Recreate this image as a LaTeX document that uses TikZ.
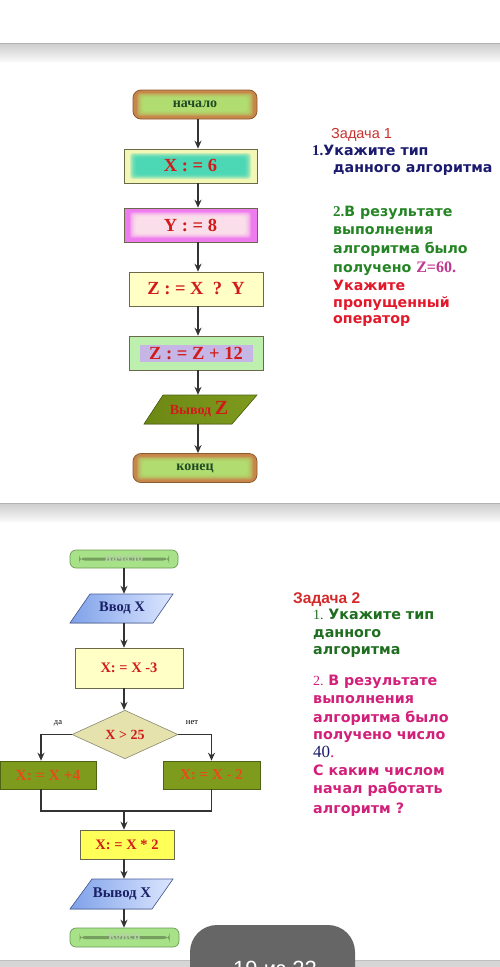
\documentclass[tikz,border=0pt]{standalone}
\usepackage{fontspec}
\setmainfont{Liberation Serif}
\newfontfamily\dvs{DejaVu Sans}
\newfontfamily\lsans{Liberation Sans}
\usetikzlibrary{shapes.geometric,arrows.meta,calc}
\definecolor{fred}{HTML}{D21A1A}
\definecolor{dgreen}{HTML}{1F4A22}
\definecolor{termbrown}{HTML}{C8874A}
\definecolor{termborder}{HTML}{8A5A2E}
\definecolor{glowgreen}{HTML}{ADF07A}
\definecolor{yel1}{HTML}{F2F7B5}
\definecolor{teal1}{HTML}{2BD2B6}
\definecolor{mag1}{HTML}{EE7CEE}
\definecolor{cream1}{HTML}{FFF5EA}
\definecolor{lightyel}{HTML}{FFFFC6}
\definecolor{zgreen}{HTML}{BDF0AE}
\definecolor{lav}{HTML}{C6B6E6}
\definecolor{olive}{HTML}{7E9B1E}
\definecolor{olivedk}{HTML}{6C8814}
\definecolor{oliveborder}{HTML}{4F6412}
\definecolor{arrowc}{HTML}{333333}
\definecolor{boxborder}{HTML}{6A6A4A}
\definecolor{green2}{HTML}{A7E288}
\definecolor{green2b}{HTML}{6B9B55}
\definecolor{blue1}{HTML}{7FA1E9}
\definecolor{blue2}{HTML}{DCE6FF}
\definecolor{blueborder}{HTML}{4A5F99}
\definecolor{navy}{HTML}{1A1F66}
\definecolor{khaki}{HTML}{E6E2AE}
\definecolor{yel2}{HTML}{FFFF5A}
\definecolor{ored}{HTML}{E84A18}
\definecolor{zred}{HTML}{C9302E}
\definecolor{navytxt}{HTML}{1A1A6E}
\definecolor{greentxt}{HTML}{258525}
\definecolor{pinkz}{HTML}{C2378F}
\definecolor{redtxt}{HTML}{E3182B}
\definecolor{ztwored}{HTML}{D42A2A}
\definecolor{greentwo}{HTML}{1F6E1F}
\definecolor{magtxt}{HTML}{D2207A}
\definecolor{pagegrey}{HTML}{666666}
\newcommand\txtTop{\dvs\bfseries\fontsize{14.2}{16}\selectfont}
\newcommand\txtBot{\dvs\bfseries\fontsize{14.3}{16}\selectfont}
\begin{document}
\begin{tikzpicture}[x=1pt,y=-1pt,
  glow/.style n args={3}{path picture={
    \foreach \k in {0,...,6}{
      \fill[#1,opacity=0.22,rounded corners=3pt]
        ([xshift={(#2+\k)*1pt}, yshift={(#3+0.8*\k)*1pt}]path picture bounding box.south west)
        rectangle
        ([xshift={-(#2+\k)*1pt}, yshift={-(#3+0.8*\k)*1pt}]path picture bounding box.north east);
    }}},
  term/.style={draw=termborder, line width=0.8pt, fill=termbrown, rounded corners=8pt,
    minimum width=124pt, minimum height=29pt, inner sep=0pt, text=dgreen,
    font=\bfseries\fontsize{14}{16}\selectfont},
  pbox/.style={draw=boxborder, line width=0.6pt, inner sep=0pt,
    minimum width=133pt, minimum height=34pt, text=fred,
    font=\bfseries\fontsize{18.5}{20}\selectfont},
  arr/.style={draw=arrowc, line width=1.8pt, -{Stealth[length=8pt,width=7pt]}},
  fline/.style={draw=arrowc, line width=1.8pt},
  smallbox/.style={draw=boxborder, line width=0.6pt, inner sep=0pt, text=fred,
    font=\bfseries\fontsize{14.5}{16}\selectfont},
  term2/.style={draw=green2b, line width=0.7pt, fill=green2, rounded corners=6pt,
    minimum width=108pt, minimum height=18pt, inner sep=0pt, text=green2!60!gray!70,
    font=\bfseries\fontsize{12}{14}\selectfont},
  parab/.style={draw=blueborder, line width=0.6pt, left color=blue1, right color=blue2},
  txt/.style={anchor=base west, inner sep=0pt},
]
\useasboundingbox (0,0) rectangle (500,967);
\clip (0,0) rectangle (500,967);
\fill[white] (0,0) rectangle (500,967);
% separators
\shade[top color=black!20, bottom color=black!3] (0,43) rectangle (500,61);
\draw[black!30, line width=1pt] (0,43.5) -- (500,43.5);
\shade[top color=black!20, bottom color=black!3] (0,503) rectangle (500,521);
\draw[black!30, line width=1pt] (0,503.5) -- (500,503.5);

% ===== Task 1 flowchart =====
\coordinate (axA) at (198,0);
\node[term, glow={glowgreen}{4}{3}] (start1) at (195,104.5) {начало};
\node[pbox, fill=yel1, glow={teal1}{6}{4}] (x6) at (190.5,166) {X : = 6};
\node[pbox, fill=mag1, glow={cream1}{6}{4}] (y8) at (190.5,225) {Y : = 8};
\node[pbox, fill=lightyel, minimum width=134pt] (zq) at (196,289) {Z : = X\ \ ?\ \ Y};
\node[pbox, fill=zgreen, minimum width=134pt,
  path picture={\fill[lav] ([xshift=-56.5pt,yshift=-8.5pt]path picture bounding box.center)
    rectangle ([xshift=56.5pt,yshift=8.5pt]path picture bounding box.center);}]
  (z12) at (196,353) {Z : = Z + 12};
\filldraw[draw=oliveborder, line width=0.6pt, left color=olivedk, right color=olive]
  (163,395) -- (257,395) -- (232,424) -- (144,424) -- cycle;
\node[inner sep=0pt, minimum height=29pt, text=fred] (outZ) at (199,409.5)
  {\bfseries\fontsize{14}{16}\selectfont Вывод \fontsize{20}{21}\selectfont Z};
\node[term, glow={glowgreen}{4}{3}] (end1) at (195,468) {конец};

\draw[arr] (start1.south -| axA) -- (x6.north -| axA);
\draw[arr] (x6.south -| axA) -- (y8.north -| axA);
\draw[arr] (y8.south -| axA) -- (zq.north -| axA);
\draw[arr] (zq.south -| axA) -- (z12.north -| axA);
\draw[arr] (z12.south -| axA) -- (outZ.north -| axA);
\draw[arr] (outZ.south -| axA) -- (end1.north -| axA);

% ===== Task 1 text =====
\node[txt, text=zred, font=\lsans\fontsize{14.5}{16}\selectfont] (h1) at (331,138) {Задача 1};
\node[txt, text=navytxt] (a1) at (312,155) {{\bfseries\fontsize{15}{16}\selectfont 1.}{\txtTop Укажите тип}};
\node[txt, text=navytxt, font=\txtTop] (a2) at (333,172) {данного алгоритма};
\node[txt, text=greentxt] (b1) at (333,216) {{\bfseries\fontsize{15}{16}\selectfont 2.}{\txtTop В результате}};
\node[txt, text=greentxt, font=\txtTop] (b2) at (333,234) {выполнения};
\node[txt, text=greentxt, font=\txtTop] (b3) at (333,253) {алгоритма было};
\node[txt, text=greentxt] (b4) at (333,272) {{\txtTop получено }{\color{pinkz}\bfseries\fontsize{16}{18}\selectfont Z=60.}};
\node[txt, text=redtxt, font=\txtTop] (b5) at (333,290) {Укажите};
\node[txt, text=redtxt, font=\txtTop] (b6) at (333,307) {пропущенный};
\node[txt, text=redtxt, font=\txtTop] (b7) at (333,323) {оператор};

% ===== Task 2 flowchart =====
\coordinate (axB) at (124,0);
\node[term2, path picture={\fill[black!30!green2] ([xshift=-45pt,yshift=-1.5pt]path picture bounding box.center)
    rectangle ([xshift=45pt,yshift=1.5pt]path picture bounding box.center);}]
  (start2) at (124,559) {начало};
\filldraw[parab] (90,594) -- (173,594) -- (153,623) -- (70,623) -- cycle;
\node[inner sep=0pt, minimum height=29pt, text=navy, font=\bfseries\fontsize{14.5}{16}\selectfont]
  (inX) at (122,608.5) {Ввод X};
\node[smallbox, fill=lightyel, minimum width=108pt, minimum height=40pt] (xm3) at (129,668) {X: = X -3};
\node[diamond, draw=boxborder!80, line width=0.6pt, fill=khaki, inner sep=0pt,
  minimum width=106pt, minimum height=43pt, text=fred,
  font=\bfseries\fontsize{14}{16}\selectfont] (cond) at (125,734.5) {X > 25};
\node[smallbox, draw=oliveborder, fill=olive, text=ored, minimum width=96pt, minimum height=28pt,
  font=\bfseries\fontsize{15.5}{17}\selectfont] (xl) at (48,775) {X: = X +4};
\node[smallbox, draw=oliveborder, fill=olive, text=ored, minimum width=97pt, minimum height=28pt,
  font=\bfseries\fontsize{15}{17}\selectfont] (xr) at (211.5,775) {X: = X - 2};
\node[smallbox, fill=yel2, minimum width=94pt, minimum height=29pt] (x2) at (127,844.5) {X: = X * 2};
\filldraw[parab] (92,879) -- (173,879) -- (152,909) -- (70,909) -- cycle;
\node[inner sep=0pt, minimum height=30pt, text=navy, font=\bfseries\fontsize{14.8}{16}\selectfont]
  (outX) at (122,894) {Вывод X};
\node[term2, minimum width=109pt, minimum height=19pt,
  path picture={\fill[black!30!green2] ([xshift=-45pt,yshift=-1.5pt]path picture bounding box.center)
    rectangle ([xshift=45pt,yshift=1.5pt]path picture bounding box.center);}]
  (end2) at (124.5,937.5) {конец};

\node[font=\fontsize{8.5}{10}\selectfont, inner sep=0pt] (yes) at (58,723) {да};
\node[font=\fontsize{8.5}{10}\selectfont, inner sep=0pt] (no) at (192,723) {нет};

\draw[arr] (start2.south -| axB) -- (inX.north -| axB);
\draw[arr] (inX.south -| axB) -- (xm3.north -| axB);
\draw[arr] (xm3.south -| axB) -- (cond.north -| axB);
\draw[arr] (cond.west) -| ([xshift=-7pt]xl.north);
\draw[arr] (cond.east) -| (xr.north);
\coordinate (merge) at (124,811);
\draw[fline] ([xshift=-7pt]xl.south) |- (merge) -| (xr.south);
\draw[arr] (merge) -- (merge |- x2.north);
\draw[arr] (x2.south -| axB) -- (outX.north -| axB);
\draw[arr] (outX.south -| axB) -- (end2.north -| axB);

% ===== Task 2 text =====
\node[txt, text=ztwored, font=\lsans\bfseries\fontsize{15.5}{17}\selectfont] (h2) at (293,603) {Задача 2};
\node[txt, text=greentwo] (c1) at (313,619) {{\fontsize{14}{16}\selectfont 1. }{\txtBot Укажите тип}};
\node[txt, text=greentwo, font=\txtBot] (c2) at (313,637) {данного};
\node[txt, text=greentwo, font=\txtBot] (c3) at (313,654) {алгоритма};
\node[txt, text=magtxt] (d1) at (313,685) {{\fontsize{14}{16}\selectfont 2. }{\txtBot В результате}};
\node[txt, text=magtxt, font=\txtBot] (d2) at (313,703) {выполнения};
\node[txt, text=magtxt, font=\txtBot] (d3) at (313,722) {алгоритма было};
\node[txt, text=magtxt, font=\txtBot] (d4) at (313,739) {получено число};
\node[txt] (d5) at (313,757) {{\color{navytxt}\fontsize{17}{19}\selectfont 40}{\color{magtxt}\fontsize{17}{19}\selectfont .}};
\node[txt, text=magtxt, font=\txtBot] (d6) at (313,775) {С каким числом};
\node[txt, text=magtxt, font=\txtBot] (d7) at (313,793) {начал работать};
\node[txt, text=magtxt, font=\txtBot] (d8) at (313,813) {алгоритм ?};

% ===== bottom band and page indicator (cut by the lower edge, as in the reference) =====
\fill[black!16] (0,960) rectangle (500,967);
\draw[black!25, line width=0.8pt] (0,960) -- (500,960);
\fill[pagegrey, rounded corners=27pt] (190,925) rectangle (355,1010);
\node[txt, text=white, font=\lsans\fontsize{22}{24}\selectfont, anchor=base] (pg) at (275,976) {19 из 22};
\end{tikzpicture}
\end{document}
